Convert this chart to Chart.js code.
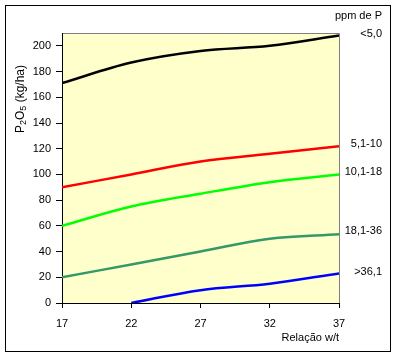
<!DOCTYPE html>
<html><head><meta charset="utf-8">
<script src="https://cdn.jsdelivr.net/npm/chart.js@4/dist/chart.umd.min.js"></script>
<style>html,body{margin:0;padding:0;background:#fff}#wrap{width:397px;height:357px}</style>
</head><body><div id="wrap"><canvas id="c" width="397" height="357"></canvas></div>
<script>
const xValues = [17, 22, 27, 32, 37];
const xTicks = [17, 22, 27, 32, 37];
const yTicks = [0, 20, 40, 60, 80, 100, 120, 140, 160, 180, 200];
const seriesNames = ['<5,0', '5,1-10', '10,1-18', '18,1-36', '>36,1'];
const sLt5 = [171, 187, 196, 200, 208];
const s5to10 = [90, 100, 110, 116, 122];
const s10to18 = [60, 75, 85, 94, 100];
const s18to36 = [20, 30, 40, 50, 53.5];
const sGt36 = [null, 0, 10, 15, 23];
const legendTitle = 'ppm de P';
const yTitleParts = [['P', 0], ['2', 1], ['O', 0], ['5', 1], [' (kg/ha)', 0]];
const xTitle = 'Relação w/t';
const colors = ['#000000', '#FF0000', '#00FF00', '#339966', '#0000FF'];
const FONT = 'Liberation Sans, Arial, sans-serif';

const allSeries = [sLt5, s5to10, s10to18, s18to36, sGt36];
const datasets = allSeries.map((vals, i) => ({
  label: seriesNames[i],
  data: xValues.map((x, j) => ({x: x, y: vals[j]})),
  borderColor: colors[i],
  backgroundColor: colors[i],
  borderWidth: 2.5,
  pointRadius: 0,
  tension: 0.35,
  spanGaps: false,
  fill: false
}));

const deco = {
  id: 'deco',
  beforeDraw(chart) {
    const ctx = chart.ctx, a = chart.chartArea;
    ctx.save();
    ctx.fillStyle = '#fff';
    ctx.fillRect(0, 0, chart.width, chart.height);
    ctx.strokeStyle = '#000';
    ctx.lineWidth = 1;
    ctx.strokeRect(5.5, 5.5, 385, 346);
    ctx.fillStyle = '#FFFFCC';
    ctx.fillRect(a.left, a.top, a.right - a.left, a.bottom - a.top);
    ctx.strokeStyle = '#808080';
    ctx.beginPath();
    ctx.moveTo(a.left, a.top + 0.5);
    ctx.lineTo(a.right + 0.5, a.top + 0.5);
    ctx.lineTo(a.right + 0.5, a.bottom);
    ctx.stroke();
    ctx.restore();
  },
  afterDraw(chart) {
    const ctx = chart.ctx, a = chart.chartArea, ys = chart.scales.y;
    ctx.save();
    ctx.fillStyle = '#000';
    ctx.font = '11px ' + FONT;
    ctx.textAlign = 'right';
    ctx.textBaseline = 'middle';
    ctx.fillText(legendTitle, 382, 16);
    const offs = [-2, -2, -2, -3, -1];
    allSeries.forEach((vals, i) => {
      const last = vals[vals.length - 1];
      ctx.fillText(seriesNames[i], 382, ys.getPixelForValue(last) + offs[i]);
    });
    // y-axis title with subscripts
    ctx.translate(21, 133);
    ctx.rotate(-Math.PI / 2);
    ctx.textAlign = 'left';
    ctx.textBaseline = 'middle';
    let x = 0;
    yTitleParts.forEach(([t, sub]) => {
      ctx.font = (sub ? '9px ' : '12px ') + FONT;
      ctx.fillText(t, x, sub ? 3 : 0);
      x += ctx.measureText(t).width;
    });
    ctx.restore();
  }
};

new Chart(document.getElementById('c'), {
  type: 'line',
  data: { datasets: datasets },
  options: {
    responsive: false,
    animation: false,
    layout: { padding: { left: 5, top: 33, right: 58, bottom: 0 } },
    plugins: { legend: { display: false }, tooltip: { enabled: false } },
    scales: {
      x: {
        type: 'linear', min: 17, max: 37,
        afterBuildTicks(s) { s.ticks = xTicks.map(v => ({value: v})); },
        afterFit(s) { s.height = 54; },
        border: { display: true, color: '#000', width: 1 },
        grid: { display: true, drawOnChartArea: false, color: '#000', tickLength: 5, tickWidth: 1 },
        ticks: { color: '#000', font: { family: FONT, size: 11 }, padding: 9, maxRotation: 0 },
        title: { display: true, text: xTitle, align: 'end', color: '#000', font: { family: FONT, size: 11 }, padding: { bottom: 12, top: 0 } }
      },
      y: {
        type: 'linear', min: 0, max: 210,
        afterBuildTicks(s) { s.ticks = yTicks.map(v => ({value: v})); },
        afterFit(s) { s.width = 57; },
        border: { display: true, color: '#000', width: 1 },
        grid: { display: true, drawOnChartArea: false, color: '#000', tickLength: 6, tickWidth: 1 },
        ticks: { color: '#000', font: { family: FONT, size: 11 }, padding: 5 }
      }
    }
  },
  plugins: [deco]
});
</script>
</body></html>
